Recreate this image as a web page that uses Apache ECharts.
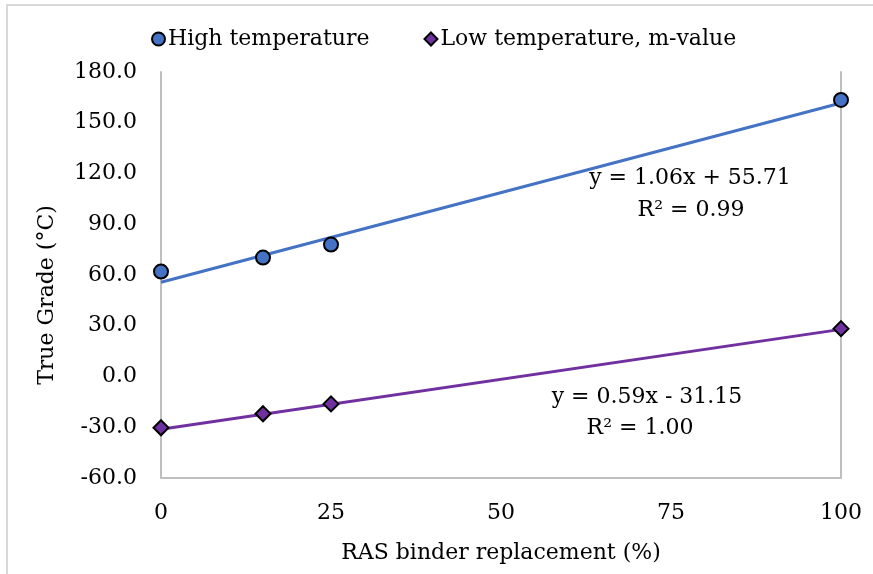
<!DOCTYPE html>
<html>
<head>
<meta charset="utf-8">
<script src="https://cdn.jsdelivr.net/npm/echarts@6/dist/echarts.min.js"></script>
<style>
html,body{margin:0;padding:0;background:#fff;}
#chart{width:873px;height:574px;}
</style>
</head>
<body>
<div id="chart"></div>
<script>
var xValues = [0, 15, 25, 100];
var highTemp = [62.0, 70.3, 78.0, 163.5];
var lowTemp = [-30.3, -22.0, -16.2, 28.3];
var highTrend = [55.71, 161.71];
var lowTrend = [-31.15, 27.85];
var trendX = [0, 100];
var yTicks = [-60, -30, 0, 30, 60, 90, 120, 150, 180];
var xTicks = [0, 25, 50, 75, 100];
var seriesNames = ['High temperature', 'Low temperature, m-value'];
var eqHigh = ['y = 1.06x + 55.71', 'R² = 0.99'];
var eqLow = ['y = 0.59x - 31.15', 'R² = 1.00'];

var FONT = '"DejaVu Serif", "Liberation Serif", serif';
var FS = 22;
var BLUE = '#4472C4';
var PURPLE = '#7030A0';

function pairs(xs, ys) { return xs.map(function (x, i) { return [x, ys[i]]; }); }

var chart = echarts.init(document.getElementById('chart'));
chart.setOption({
  animation: false,
  backgroundColor: '#fff',
  textStyle: { fontFamily: FONT },
  grid: { left: 161, right: 32, top: 72, bottom: 96, containLabel: false },
  legend: {
    left: 146, top: 23,
    itemWidth: 13, itemHeight: 13, itemGap: 54,
    textStyle: { fontFamily: FONT, fontSize: FS, color: '#000', padding: [0, 0, 0, -2] },
    data: [{ name: seriesNames[0], icon: 'circle' }, { name: seriesNames[1], icon: 'diamond' }]
  },
  xAxis: {
    type: 'value', min: xTicks[0], max: xTicks[xTicks.length - 1], interval: 25,
    name: 'RAS binder replacement (%)', nameLocation: 'middle', nameGap: 64,
    nameTextStyle: { fontFamily: FONT, fontSize: FS, color: '#000' },
    axisLine: { show: true, onZero: false, lineStyle: { color: '#BFBFBF', width: 2 } },
    axisTick: { show: false },
    splitLine: { show: false },
    axisLabel: { fontFamily: FONT, fontSize: FS, color: '#000', margin: 24 }
  },
  yAxis: [{
    type: 'value', min: yTicks[0], max: yTicks[yTicks.length - 1], interval: 30,
    axisLine: { show: true, onZero: false, lineStyle: { color: '#BFBFBF', width: 2 } },
    axisTick: { show: false },
    splitLine: { show: false },
    axisLabel: { fontFamily: FONT, fontSize: FS, color: '#000', margin: 24,
      formatter: function (v) { return v.toFixed(1); } }
  }, {
    type: 'value', position: 'right', min: yTicks[0], max: yTicks[yTicks.length - 1], interval: 30,
    axisLine: { show: true, onZero: false, lineStyle: { color: '#BFBFBF', width: 2 } },
    axisTick: { show: false }, axisLabel: { show: false }, splitLine: { show: false }
  }],
  series: [
    { name: 'highTrend', type: 'line', data: pairs(trendX, highTrend), symbol: 'none',
      lineStyle: { color: BLUE, width: 3 }, z: 2, silent: true },
    { name: 'lowTrend', type: 'line', data: pairs(trendX, lowTrend), symbol: 'none',
      lineStyle: { color: PURPLE, width: 3 }, z: 2, silent: true },
    { name: seriesNames[0], type: 'scatter', data: pairs(xValues, highTemp), symbol: 'circle', symbolSize: 14,
      itemStyle: { color: BLUE, borderColor: '#000', borderWidth: 2, opacity: 1 }, z: 5 },
    { name: seriesNames[1], type: 'scatter', data: pairs(xValues, lowTemp), symbol: 'diamond', symbolSize: 15,
      itemStyle: { color: PURPLE, borderColor: '#000', borderWidth: 2, opacity: 1 }, z: 5 }
  ],
  graphic: [
    { type: 'rect', shape: { x: 7, y: 5, width: 900, height: 600 }, style: { fill: 'none', stroke: '#D9D9D9', lineWidth: 2 }, silent: true },
    { type: 'text', x: 47, y: 295, rotation: Math.PI / 2,
      style: { text: 'True Grade (°C)', font: FS + 'px ' + FONT, fill: '#000', align: 'center', verticalAlign: 'middle' } },
    { type: 'text', x: 690, y: 178, style: { text: eqHigh[0], font: FS + 'px ' + FONT, fill: '#000', align: 'center', verticalAlign: 'middle' } },
    { type: 'text', x: 691, y: 210, style: { text: eqHigh[1], font: FS + 'px ' + FONT, fill: '#000', align: 'center', verticalAlign: 'middle' } },
    { type: 'text', x: 647, y: 397, style: { text: eqLow[0], font: FS + 'px ' + FONT, fill: '#000', align: 'center', verticalAlign: 'middle' } },
    { type: 'text', x: 640, y: 428, style: { text: eqLow[1], font: FS + 'px ' + FONT, fill: '#000', align: 'center', verticalAlign: 'middle' } }
  ]
});
</script>
</body>
</html>
